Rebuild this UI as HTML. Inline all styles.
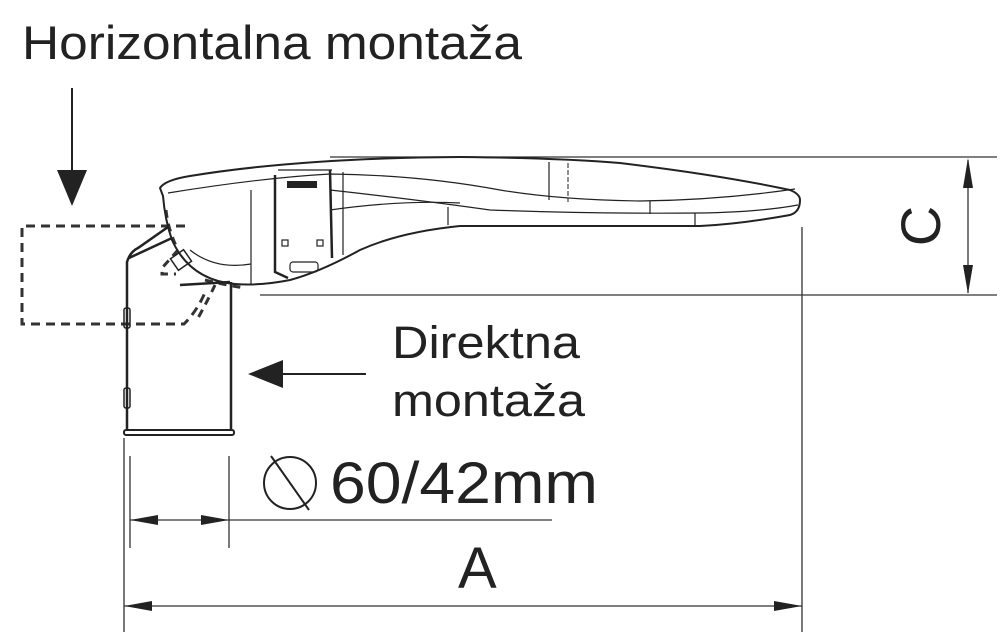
<!DOCTYPE html>
<html><head><meta charset="utf-8"><style>
html,body{margin:0;padding:0;background:#fff;}
svg{display:block;}
text{font-family:"Liberation Sans",sans-serif;fill:#222;}
</style></head><body>
<svg width="1008" height="643" viewBox="0 0 1008 643" xmlns="http://www.w3.org/2000/svg">
<text x="22" y="59" font-size="47" textLength="500" lengthAdjust="spacingAndGlyphs">Horizontalna montaža</text>
<!-- down arrow -->
<line x1="72" y1="88" x2="72" y2="175" stroke="#222" stroke-width="2"/>
<polygon points="57,170 87,170 72,206" fill="#222"/>
<!-- dashed horizontal mount -->
<path d="M185,226 L22,226 L22,324 L184,324 Q198,310 206,290" fill="none" stroke="#333" stroke-width="3" stroke-dasharray="9,6"/>
<path d="M166,210 Q168,230 178,250 L162,268 L162,274 L176,274" fill="none" stroke="#333" stroke-width="3" stroke-dasharray="8,6"/>
<path d="M215,285 Q208,300 198,318" fill="none" stroke="#333" stroke-width="3" stroke-dasharray="8,6"/>
<path d="M205,280 Q225,285 245,288" fill="none" stroke="#333" stroke-width="3" stroke-dasharray="8,6"/>
<!-- dimension lines -->
<line x1="330" y1="157" x2="997" y2="157" stroke="#333" stroke-width="1.3"/>
<line x1="260" y1="295" x2="997" y2="295" stroke="#333" stroke-width="1.3"/>
<line x1="968" y1="160" x2="968" y2="293" stroke="#333" stroke-width="1.3"/>
<polygon points="963,188 973,188 968,158" fill="#222"/>
<polygon points="963,265 973,265 968,294" fill="#222"/>
<text x="0" y="0" font-size="56" transform="translate(940,226) rotate(-90)" text-anchor="middle">C</text>
<line x1="802" y1="227" x2="802" y2="632" stroke="#333" stroke-width="1.3"/>
<!-- lamp body -->
<g fill="none" stroke="#222" stroke-width="2">
<path d="M160,188 Q165,180 190,176 Q300,158 460,157 Q560,158 620,163 Q720,175 790,190 Q800,194 800,200 Q800,212 790,215 Q740,224 700,226 L460,226 Q400,232 360,250 Q320,272 290,280 Q260,286 235,284 Q190,280 172,240 Q165,220 163,196 Z"/>
<path d="M168,193 Q260,178 330,174 Q420,175 500,190 Q560,200 640,201 Q720,200 795,189" stroke-width="1.2"/>
<path d="M330,190 Q420,200 490,210 Q600,214 700,213 Q760,212 798,205" stroke-width="1.2"/>
<path d="M330,210 Q400,200 460,203" stroke-width="1.2"/>
<path d="M275,175 L275,272 L288,278" stroke-width="2.5"/>
<path d="M330,170 L332,258" stroke-width="2.5"/>
<path d="M278,170 L332,170" stroke-width="1.2"/>
<path d="M251,190 L251,284" stroke-width="1.2"/>
<path d="M343,172 L343,255" stroke-width="1.2"/>
<rect x="288" y="182" width="28" height="5" fill="#222"/>
<rect x="282" y="240" width="6" height="6" stroke-width="1.2"/>
<rect x="317" y="240" width="6" height="6" stroke-width="1.2"/>
<rect x="290" y="262" width="28" height="10" rx="3" stroke-width="1.2"/>
<path d="M190,250 Q215,270 251,264" stroke-width="1.2"/>
<line x1="549" y1="162" x2="549" y2="200" stroke-width="1.2"/>
<line x1="568" y1="163" x2="568" y2="202" stroke-width="1" stroke-dasharray="5,2"/>
<line x1="650" y1="201" x2="650" y2="214" stroke-width="1.2"/>
<line x1="695" y1="213" x2="695" y2="225" stroke-width="1.2"/>
<line x1="448" y1="207" x2="448" y2="225" stroke-width="1.2"/>
</g>
<!-- pole -->
<g fill="none" stroke="#222" stroke-width="2.5">
<path d="M127,430 L127,262 Q130,252 138,248 L168,227"/>
<path d="M129,258 L172,238"/>
<path d="M231,430 L231,282"/>
<path d="M180,285 L230,282"/>
<rect x="173" y="253" width="16" height="14" transform="rotate(-35 181 260)" stroke-width="1.5"/>
<rect x="124" y="430" width="110" height="5" rx="2" stroke-width="2"/>
<rect x="124" y="308" width="6" height="20" rx="2" stroke-width="1.5"/>
<rect x="124" y="388" width="6" height="20" rx="2" stroke-width="1.5"/>
</g>
<!-- direct mount label -->
<text x="392" y="358" font-size="45" textLength="188" lengthAdjust="spacingAndGlyphs">Direktna</text>
<text x="392" y="416" font-size="45" textLength="193" lengthAdjust="spacingAndGlyphs">montaža</text>
<line x1="275" y1="374" x2="366" y2="374" stroke="#222" stroke-width="2"/>
<polygon points="248,374 283,360 283,388" fill="#222"/>
<!-- 60/42 dimension -->
<line x1="124" y1="438" x2="124" y2="632" stroke="#333" stroke-width="1.3"/>
<line x1="130" y1="456" x2="130" y2="548" stroke="#333" stroke-width="1.3"/>
<line x1="229" y1="456" x2="229" y2="548" stroke="#333" stroke-width="1.3"/>
<line x1="130" y1="520" x2="552" y2="520" stroke="#333" stroke-width="1.3"/>
<polygon points="130,520 158,515 158,525" fill="#222"/>
<polygon points="229,520 201,515 201,525" fill="#222"/>
<circle cx="290" cy="483" r="26" fill="none" stroke="#222" stroke-width="2"/>
<line x1="271" y1="456" x2="309" y2="510" stroke="#222" stroke-width="2"/>
<text x="330" y="503" font-size="58" textLength="268" lengthAdjust="spacingAndGlyphs">60/42mm</text>
<!-- A dimension -->
<line x1="124" y1="606" x2="802" y2="606" stroke="#333" stroke-width="1.3"/>
<polygon points="124,606 152,601 152,611" fill="#222"/>
<polygon points="802,606 774,601 774,611" fill="#222"/>
<text x="458" y="588" font-size="58">A</text>
</svg>
</body></html>
